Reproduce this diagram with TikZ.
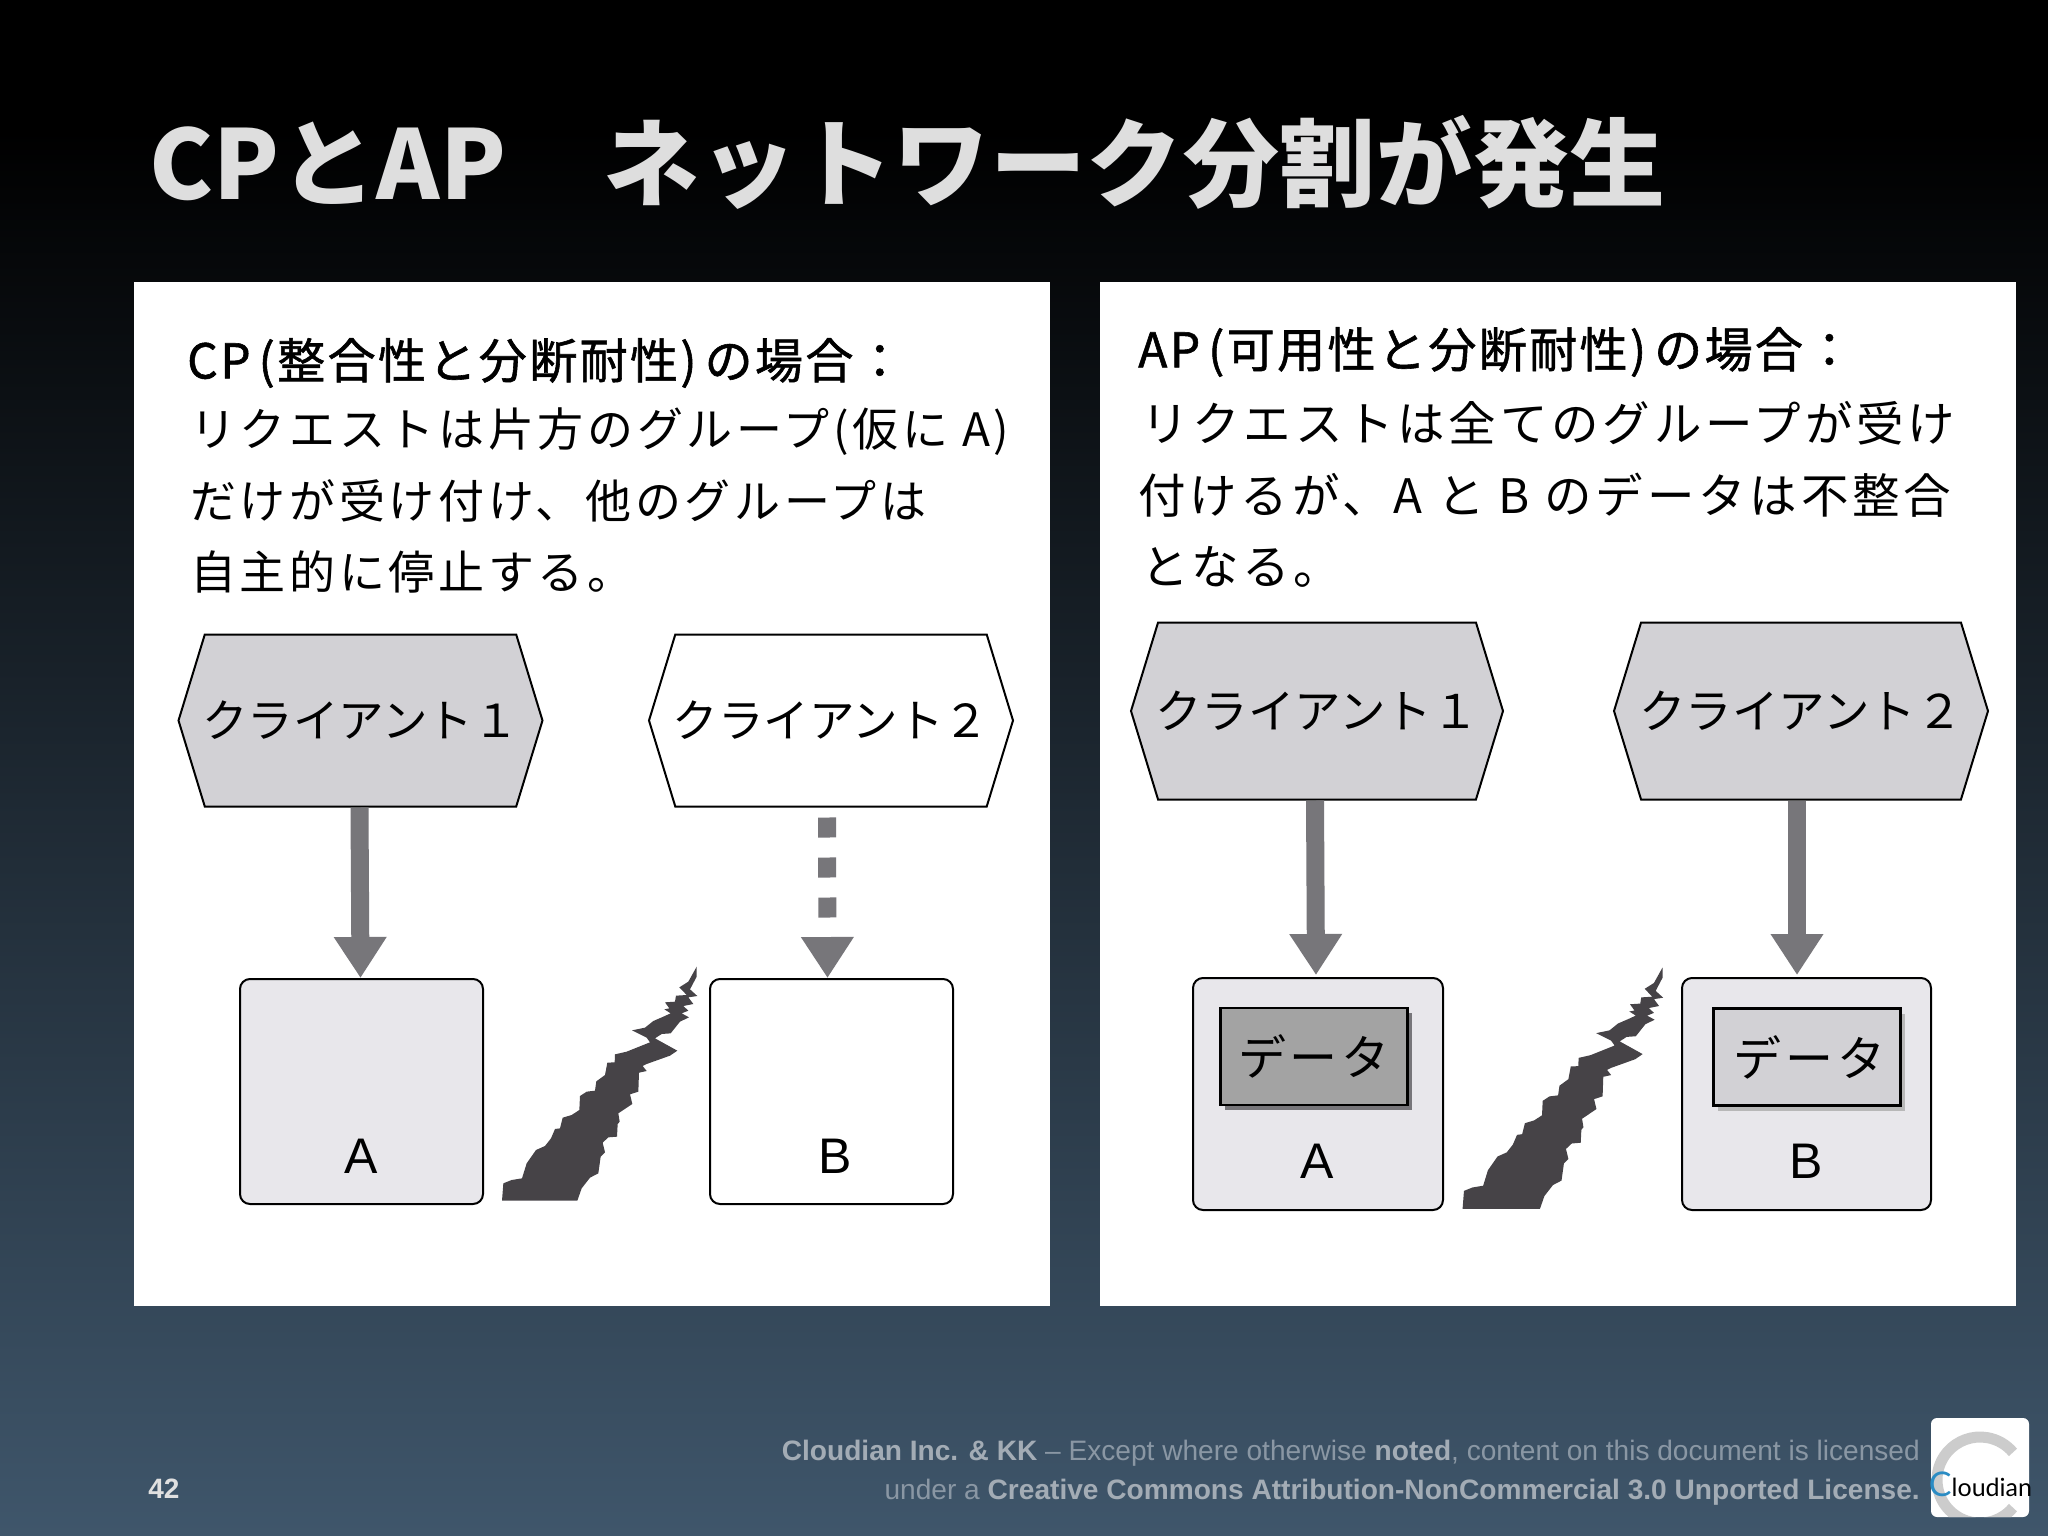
\documentclass[tikz,border=0pt]{standalone}
\usepackage{fontspec}
\setmainfont{Noto Sans CJK JP}
\setsansfont{Liberation Sans}
\newfontfamily\jpplain{Noto Sans CJK JP}
\newfontfamily\jpbody[LetterSpace=8]{Noto Sans CJK JP}
\newfontfamily\jpmed[FakeBold=1.2,LetterSpace=5]{Noto Sans CJK JP}
\newfontfamily\jptitle[LetterSpace=0.6]{Noto Sans CJK JP}
\newfontfamily\logofont{Lato}
\usetikzlibrary{arrows.meta,shapes.symbols,shadows}
\definecolor{bgbot}{HTML}{3F566B}
\definecolor{boxgray}{HTML}{E8E7EB}
\definecolor{hexgray}{HTML}{D2D1D5}
\definecolor{arrowgray}{HTML}{77767A}
\definecolor{crackgray}{HTML}{464347}
\definecolor{footgray}{HTML}{8A97A4}
\definecolor{footlight}{HTML}{A3ACB5}
\definecolor{logoblue}{HTML}{2B8CC4}
\tikzset{
hexbox/.style={draw,line width=2pt,shape=signal,signal to=west and east,signal pointer angle=146,
  minimum width=#1,minimum height=172pt,inner ysep=0pt,inner xsep=-8pt,font=\fontsize{45.5}{45.5}\selectfont\jpplain},
hexbox/.default=364pt,
srvbox/.style={draw,line width=2pt,rounded corners=10pt,minimum width=#1,anchor=north west,inner sep=0pt},
databox/.style={draw,line width=2.4pt,minimum width=187pt,minimum height=97pt,inner sep=0pt,
  font=\fontsize{48}{48}\selectfont\jpbody},
bigarrow/.style={line width=18pt,draw=arrowgray,-{Triangle[width=50pt,length=41pt]}},
bodyline/.style={anchor=west,inner sep=0pt,font=\fontsize{46}{46}\selectfont\jpbody},
apline/.style={anchor=west,inner sep=0pt,font=\fontsize{47.5}{47.5}\selectfont\jpbody},
headline/.style={anchor=west,inner sep=0pt,font=\fontsize{48}{48}\selectfont\jpmed},
srvlabel/.style={inner sep=0pt,font=\fontsize{50}{50}\sffamily},
footline/.style={anchor=east,inner sep=0pt,text=footgray,font=\fontsize{28.1}{28.1}\sffamily},
crack/.pic={\fill[crackgray,scale=1/3,pic actions] (66,782) -- (70,730) -- (95,720) -- (126,715) -- (140,670) -- (168,630) -- (195,618) -- (213,595) -- (225,567) -- (240,565) -- (248,533) -- (275,525) -- (298,510) -- (300,468) -- (320,455) -- (345,452) -- (349,424) -- (375,405) -- (382,368) -- (404,367) -- (405,343) -- (440,335) -- (510,307) -- (500,293) -- (456,271) -- (495,263) -- (520,243) -- (550,230) -- (572,220) -- (553,208) -- (568,205) -- (555,187) -- (585,185) -- (588,167) -- (620,165) -- (598,142) -- (625,125) -- (650,80) -- (650,110) -- (630,148) -- (652,168) -- (625,172) -- (640,192) -- (610,198) -- (625,212) -- (605,220) -- (627,232) -- (600,245) -- (572,280) -- (545,282) -- (525,295) -- (592,332) -- (570,347) -- (500,372) -- (488,378) -- (500,393) -- (477,398) -- (475,455) -- (450,463) -- (457,492) -- (415,520) -- (419,545) -- (413,552) -- (411,590) -- (385,592) -- (368,608) -- (375,637) -- (362,650) -- (355,700) -- (330,713) -- (305,745) -- (292,782) -- cycle;}
}
\begin{document}
\begin{tikzpicture}[x=1pt,y=-1pt]
\useasboundingbox (0,0) rectangle (2048,1536);
\fill[black] (0,0) rectangle (2048,131);
\fill[top color=black,bottom color=bgbot] (0,130) rectangle (2048,1536);
\node[anchor=west,inner sep=0pt,text=white!87!black,font=\fontsize{96}{96}\selectfont\jptitle\bfseries] (title) at (149,162) {CPとAP　ネットワーク分割が発生};
\fill[white] (134,282) rectangle (1050,1306);
\fill[white] (1100,282) rectangle (2016,1306);
\node[headline] (cphead) at (187,363) {CP\,(整合性と分断耐性)\,の場合：};
\node[bodyline] (cpone) at (190,432) {リクエストは片方のグループ(仮に A)};
\node[bodyline] (cptwo) at (190,501) {だけが受け付け、他のグループは};
\node[bodyline] (cpthree) at (190,572) {自主的に停止する。};
\node[headline] (aphead) at (1138,352) {AP\,(可用性と分断耐性)\,の場合：};
\node[apline] (apone) at (1141,423) {リクエストは全てのグループが受け};
\node[apline] (aptwo) at (1138,495) {付けるが、A と B のデータは不整合};
\node[apline] (apthree) at (1141,567) {となる。};
\node[hexbox,fill=hexgray] (cpcla) at (360.5,720.5) {クライアント１};
\node[hexbox,fill=white] (cpclb) at (831,720.5) {クライアント２};
\node[srvbox=243pt,fill=boxgray,minimum height=225pt] (cpa) at (239,978) {};
\node[srvbox=243pt,fill=white,minimum height=225pt] (cpb) at (709,978) {};
\node[srvlabel] (cpal) at (361,1156) {A};
\node[srvlabel] (cpbl) at (835,1156) {B};
\draw[bigarrow] ([xshift=-1pt]cpcla.south) -- ([xshift=-1pt]cpa.north);
\draw[bigarrow,dash pattern=on 20pt off 20pt,shorten <=10pt] ([xshift=-4pt]cpclb.south) -- ([xshift=-4pt]cpb.north);
\pic at (480,940) {crack};
\node[hexbox=372pt,fill=hexgray,minimum height=177pt,font=\fontsize{46.5}{46.5}\selectfont\jpplain] (apcla) at (1317,711) {クライアント１};
\node[hexbox=374pt,fill=hexgray,minimum height=177pt,font=\fontsize{46.5}{46.5}\selectfont\jpplain] (apclb) at (1801,711) {クライアント２};
\node[srvbox=250pt,fill=boxgray,minimum height=232pt] (apa) at (1192,977) {};
\node[srvbox=249pt,fill=boxgray,minimum height=232pt] (apb) at (1681,977) {};
\node[databox,fill=black!36,general shadow={fill=arrowgray,shadow xshift=4pt,shadow yshift=-5pt}] (apda) at (1314,1056.5) {データ};
\node[databox,fill=hexgray,general shadow={fill=black!28,shadow xshift=4pt,shadow yshift=-5pt}] (apdb) at (1807,1057) {\hspace{5pt}データ};
\node[srvlabel] (apal) at (1317,1161) {A};
\node[srvlabel] (apbl) at (1806,1161) {B};
\draw[bigarrow,shorten >=2pt] ([xshift=-2pt]apcla.south) -- ([xshift=-2pt]apa.north);
\draw[bigarrow,shorten >=2pt] ([xshift=-4pt]apclb.south) -- ([xshift=-4pt]apclb.south |- apb.north);
\pic[xscale=1.027,yscale=1.031] at (1440,940) {crack};
\node[inner sep=0pt,text=white!88!black,font=\fontsize{28}{28}\sffamily\bfseries] (pageno) at (164,1489) {42};
\node[footline] (footone) at (1920,1453) {\textcolor{footlight}{\textbf{Cloudian Inc. \& KK}} – Except where otherwise \textcolor{footlight}{\textbf{noted}}, content on this document is licensed};
\node[footline] (foottwo) at (1920,1492) {under a \textcolor{footlight}{\textbf{Creative Commons Attribution-NonCommercial 3.0 Unported License.}}};
\node[fill=white,rounded corners=6pt,minimum width=98pt,minimum height=99pt,inner sep=0pt,
  path picture={\draw[black!20,line width=11pt] (0,12.5) ++(40:43) arc[start angle=40,end angle=320,radius=43];}] (logo) at (1980,1467.5) {};
\node[inner sep=0pt,font=\fontsize{25}{25}\logofont] (logotext) at (1980.5,1484) {\textcolor{logoblue}{\fontsize{34}{34}\selectfont C}loudian};
\end{tikzpicture}
\end{document}
